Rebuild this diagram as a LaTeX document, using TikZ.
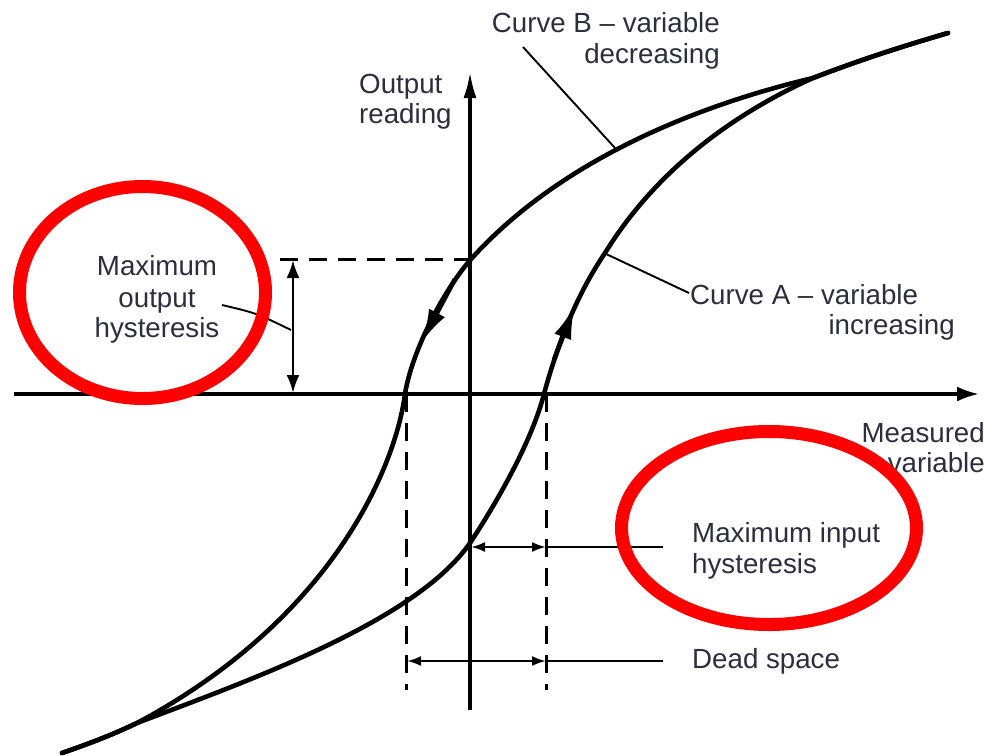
\documentclass[tikz,border=0pt]{standalone}
\usepackage{fontspec}
\setmainfont{Liberation Sans}
\usetikzlibrary{arrows.meta}
\definecolor{txt}{RGB}{45,45,62}
\definecolor{hl}{RGB}{255,0,0}
\begin{document}
\begin{tikzpicture}[x=1pt,y=-1pt,
  curve/.style={line width=4.6pt, line cap=round, line join=round},
  axis/.style={line width=3.2pt},
  leader/.style={line width=1.9pt},
  dim/.style={line width=2.4pt},
  guide/.style={line width=3pt, dash pattern=on 18pt off 11pt},
  lbl/.style={text=txt, inner sep=0pt, font=\fontsize{27.7}{31}\selectfont},
  ring/.style={draw=hl, line width=13pt},
  bigtip/.style={-{Latex[length=34pt,width=18pt]}, line width=4.6pt},
  dimtip/.style={{Latex[length=14pt,width=10pt]}-{Latex[length=14pt,width=10pt]}, line width=2.4pt},
]
\useasboundingbox (0,0) rectangle (987,755);

% key points
\coordinate (O) at (470,394);
\coordinate (xs) at (14,394);
\coordinate (xe) at (979,394);
\coordinate (yb) at (470,710);
\coordinate (yt) at (470,72);
\coordinate (Bx) at (405,394);
\coordinate (Ax) at (544,394);
\coordinate (By) at (472,258);
\coordinate (Ay) at (472,540);
\coordinate (Top) at (948,33);
\coordinate (Mt) at (813,78);
\coordinate (Mb) at (137,723);
\coordinate (Bot) at (62,753);
\coordinate (Ap) at (605,253);
\coordinate (Hs) at (280,259);
\coordinate (He) at (470,259);

% curve B (variable decreasing)
\draw[curve] (Top) .. controls (900,47) and (860,60) .. (Mt)
  .. controls (720,100) and (570,150) .. (By)
  .. controls (445,288) and (412,350) .. (Bx)
  .. controls (395,470) and (330,620) .. (Mb)
  .. controls (110,736) and (85,745) .. (Bot);
% curve A (variable increasing)
\draw[curve] (Bot) .. controls (85,745) and (110,736) .. (Mb)
  .. controls (250,680) and (420,620) .. (Ay)
  .. controls (500,497) and (532,440) .. (Ax)
  .. controls (560,335) and (580,290) .. (Ap)
  .. controls (650,180) and (720,120) .. (Mt)
  .. controls (860,60) and (900,47) .. (Top);

% arrowheads on curves
\coordinate (Ba1) at (455,279);
\coordinate (Ba2) at (421,343);
\draw[bigtip] (Ba1) -- (Ba2);
\coordinate (Aa1) at (554,360);
\coordinate (Aa2) at (575,305);
\draw[bigtip] (Aa1) -- (Aa2);

% axes
\draw[axis,-{Latex[length=22pt,width=15pt]}] (xs) -- (xe);
\draw[axis,-{Latex[length=26pt,width=13pt]}] (yb) -- (yt);

% guides
\draw[guide] (Hs) -- (He);
\coordinate (Bt) at (406,394);
\coordinate (Bd) at (406,690);
\coordinate (At) at (546,394);
\coordinate (Ad) at (546,690);
\draw[guide] (Bt) -- (Bd);
\draw[guide] (At) -- (Ad);

% output hysteresis
\coordinate (H1) at (293,260);
\coordinate (H2) at (293,393);
\draw[{Latex[length=18pt,width=13pt]}-{Latex[length=18pt,width=13pt]}, line width=2.6pt] (H1) -- (H2);

% input hysteresis & dead space
\coordinate (I1) at (471,547);
\coordinate (I2) at (546,547);
\coordinate (I3) at (663,547);
\draw[dimtip] (I1) -- (I2);
\draw[dim] (I2) -- (I3);
\coordinate (D1) at (407,661);
\coordinate (D2) at (546,661);
\coordinate (D3) at (663,661);
\draw[dimtip] (D1) -- (D2);
\draw[dim] (D2) -- (D3);

% leaders
\coordinate (LB1) at (523,47);
\coordinate (LB2) at (615,148);
\draw[leader] (LB1) -- (LB2);
\coordinate (LA1) at (604,253);
\coordinate (LA2) at (689,293);
\draw[leader] (LA1) -- (LA2);
\coordinate (LH1) at (222,305);
\coordinate (LH2) at (291,330);
\draw[leader] (LH1) .. controls (256,313) .. (LH2);

% labels
\node[lbl, anchor=base east] (b1) at (720,32) {Curve B – variable};
\node[lbl, anchor=base east] (b2) at (720,63) {decreasing};
\node[lbl, anchor=base west] (o1) at (359,93) {Output};
\node[lbl, anchor=base west] (o2) at (359,123) {reading};
\node[lbl, anchor=base] (m1) at (157,275) {Maximum};
\node[lbl, anchor=base] (m2) at (157,307) {output};
\node[lbl, anchor=base] (m3) at (157,337) {hysteresis};
\node[lbl, anchor=base west] (a1) at (690,304) {Curve A – variable};
\node[lbl, anchor=base east] (a2) at (955,334) {increasing};
\node[lbl, anchor=base east] (v1) at (985,442) {Measured};
\node[lbl, anchor=base east] (v2) at (985,472) {variable};
\node[lbl, anchor=base west] (i1) at (692,542) {Maximum input};
\node[lbl, anchor=base west] (i2) at (692,573) {hysteresis};
\node[lbl, anchor=base west] (d1) at (692,668) {Dead space};

% red highlight rings
\draw[ring] (142.5,292.5) ellipse [x radius=123pt, y radius=106pt];
\draw[ring] (769,528) ellipse [x radius=147.5pt, y radius=96.5pt];
\end{tikzpicture}
\end{document}
